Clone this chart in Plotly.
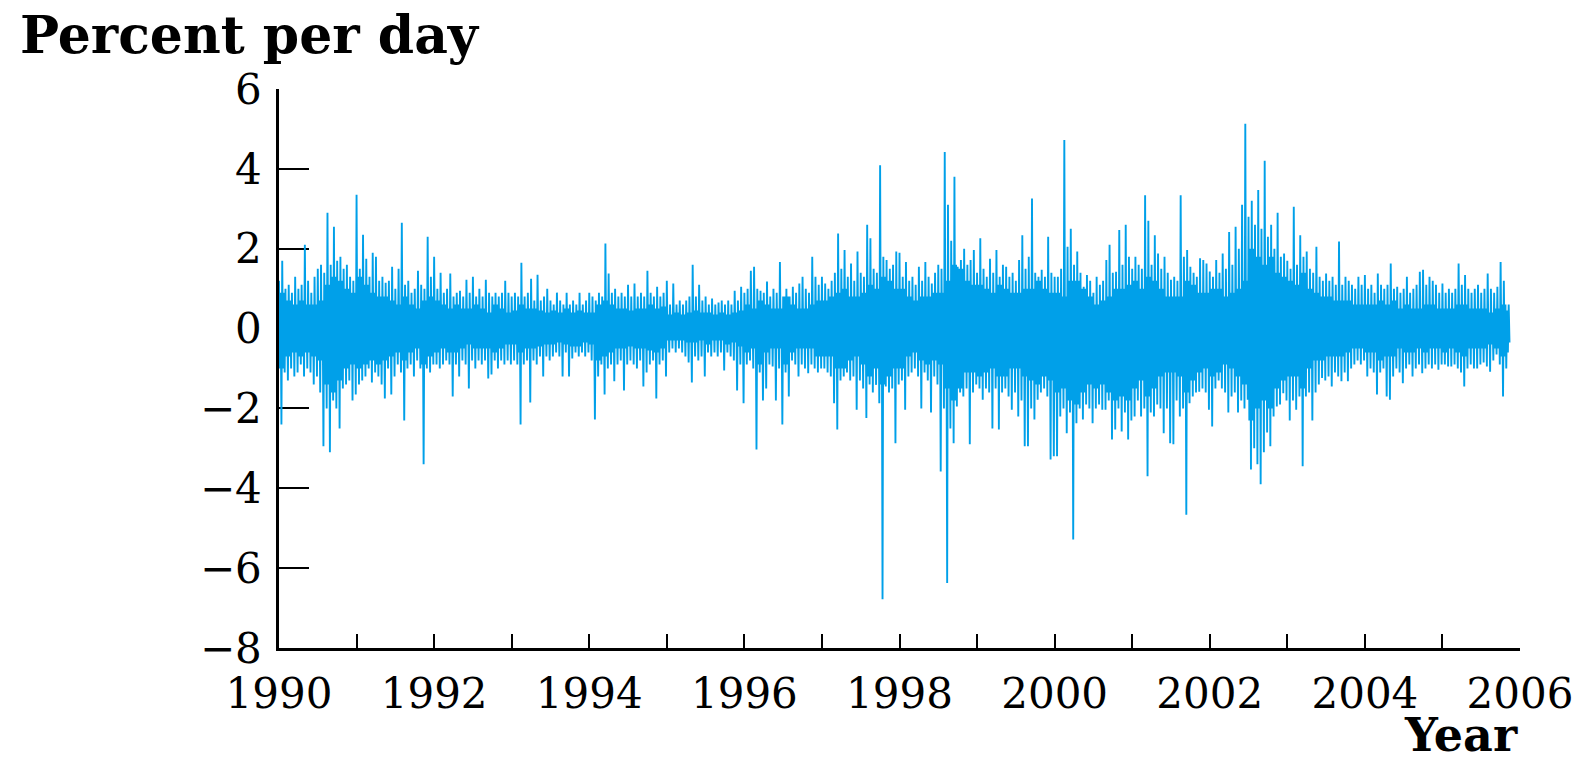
import plotly.graph_objects as go

# Half-month extremes (percent per day), 24 per year
hi_1990 = [1.2, 1.7, 1.0, 1.1, 0.9, 1.3, 1.0, 1.1, 2.1, 1.2, 0.9, 1.3, 1.5, 1.6, 1.4, 2.9, 1.6, 2.55, 1.7, 1.8, 1.5, 1.6, 1.3, 1.2]
lo_1990 = [-2.4, -1.1, -1.3, -1.0, -1.2, -1.1, -0.9, -1.2, -1.0, -1.1, -1.4, -1.2, -1.6, -2.95, -2.0, -3.1, -1.8, -2.0, -2.5, -1.5, -1.4, -1.3, -1.8, -1.65]
hi_1991 = [3.35, 1.5, 2.35, 1.75, 1.3, 1.9, 1.8, 1.2, 1.3, 1.15, 1.2, 1.55, 1.0, 1.5, 2.65, 1.1, 1.2, 0.9, 1.0, 1.45, 1.1, 1.0, 2.3, 1.3]
lo_1991 = [-1.4, -1.3, -1.2, -1.0, -1.35, -1.1, -1.2, -1.4, -1.75, -1.0, -1.65, -1.2, -0.9, -1.1, -2.3, -1.0, -0.9, -1.2, -0.8, -1.0, -3.4, -1.0, -1.1, -0.9]
hi_1992 = [1.8, 1.0, 1.4, 0.9, 1.0, 1.38, 0.8, 0.9, 0.95, 0.8, 1.22, 0.9, 1.3, 0.8, 1.0, 0.8, 1.22, 0.9, 0.8, 0.9, 0.8, 0.9, 1.2, 0.9]
lo_1992 = [-0.9, -1.0, -0.9, -0.8, -0.9, -1.7, -0.9, -1.2, -0.8, -0.9, -1.5, -0.8, -1.0, -0.8, -0.9, -0.8, -1.25, -1.15, -0.8, -1.0, -0.8, -0.9, -0.8, -0.9]
hi_1993 = [0.8, 0.9, 0.8, 1.65, 0.8, 0.9, 1.25, 0.7, 1.35, 0.7, 0.8, 1.0, 0.7, 0.6, 0.9, 0.7, 0.6, 0.9, 0.6, 0.7, 0.6, 0.9, 0.6, 0.7]
lo_1993 = [-0.8, -0.9, -2.4, -0.9, -0.8, -1.85, -0.8, -0.9, -0.7, -1.2, -0.7, -0.8, -0.7, -0.6, -0.7, -1.2, -0.6, -1.2, -0.75, -0.6, -0.7, -0.6, -0.7, -0.6]
hi_1994 = [0.9, 0.8, 0.7, 0.9, 0.8, 2.13, 1.38, 0.9, 1.0, 0.8, 0.9, 0.8, 1.1, 0.8, 1.13, 0.8, 0.9, 0.8, 1.45, 0.9, 0.8, 1.05, 0.8, 0.9]
lo_1994 = [-0.8, -2.28, -1.2, -0.9, -1.65, -1.0, -0.9, -1.32, -0.9, -0.8, -1.55, -0.9, -0.8, -0.9, -1.0, -0.8, -1.45, -1.1, -0.9, -0.8, -1.75, -0.9, -0.8, -1.2]
hi_1995 = [1.2, 0.6, 1.13, 0.6, 0.7, 0.6, 0.7, 0.8, 1.6, 0.8, 1.1, 0.7, 0.8, 0.6, 0.75, 0.6, 0.65, 0.7, 0.6, 0.7, 0.6, 0.95, 0.7, 1.05]
lo_1995 = [-0.6, -0.5, -0.6, -0.5, -0.6, -0.7, -0.85, -1.35, -0.7, -0.8, -0.7, -1.2, -0.6, -0.7, -0.6, -0.7, -0.6, -1.05, -0.6, -0.7, -0.8, -1.55, -0.9, -1.87]
hi_1996 = [0.9, 1.0, 1.45, 1.55, 1.0, 0.95, 0.9, 1.18, 0.8, 1.0, 0.9, 1.67, 0.8, 1.0, 0.8, 1.05, 0.9, 1.13, 1.3, 1.0, 0.9, 1.8, 1.3, 1.1]
lo_1996 = [-0.9, -0.8, -1.0, -3.03, -1.1, -1.8, -1.5, -0.9, -0.95, -1.8, -1.0, -2.4, -1.1, -1.7, -0.8, -0.9, -1.2, -0.9, -1.0, -1.12, -0.9, -1.0, -1.1, -1.0]
hi_1997 = [1.3, 1.13, 1.0, 1.2, 1.4, 2.38, 1.5, 1.97, 1.3, 1.63, 1.2, 1.93, 1.4, 1.3, 2.6, 2.26, 1.5, 1.4, 4.09, 1.8, 1.72, 1.5, 1.6, 1.93]
lo_1997 = [-1.0, -1.1, -1.2, -1.87, -2.53, -1.3, -1.2, -1.1, -1.3, -1.2, -2.03, -1.3, -1.5, -2.24, -1.4, -1.6, -1.41, -1.87, -6.78, -1.45, -1.6, -1.5, -2.87, -1.4]
hi_1998 = [1.9, 1.3, 1.67, 1.2, 1.3, 1.1, 1.55, 1.2, 1.67, 1.3, 1.13, 1.4, 1.6, 1.5, 4.42, 3.1, 2.2, 3.8, 1.55, 1.72, 2.0, 1.6, 1.72, 1.97]
lo_1998 = [-1.3, -2.03, -1.2, -1.1, -1.0, -1.2, -2.0, -1.1, -1.3, -2.1, -1.2, -1.4, -3.58, -2.0, -6.37, -2.5, -2.87, -1.95, -1.6, -1.7, -1.5, -2.9, -1.6, -1.4]
hi_1999 = [1.4, 2.26, 1.5, 1.3, 1.75, 1.4, 1.97, 1.3, 1.6, 1.55, 1.3, 1.4, 1.2, 1.72, 2.34, 1.5, 1.8, 3.26, 1.4, 1.3, 1.47, 1.3, 2.3, 1.4]
lo_1999 = [-1.5, -1.78, -1.5, -1.6, -2.5, -1.5, -2.53, -1.6, -1.5, -1.7, -2.03, -1.6, -2.2, -1.8, -2.95, -2.95, -2.0, -2.28, -1.78, -1.6, -1.5, -1.7, -3.28, -3.2]
hi_2000 = [1.3, 1.3, 1.5, 4.72, 2.05, 2.5, 1.6, 1.93, 1.4, 1.05, 1.34, 1.2, 0.9, 1.3, 1.1, 1.2, 1.72, 2.1, 1.4, 1.42, 2.47, 1.6, 2.6, 1.8]
lo_2000 = [-3.2, -2.2, -2.0, -2.62, -2.1, -5.28, -2.37, -2.0, -2.28, -1.9, -2.0, -2.37, -2.0, -1.9, -2.03, -2.03, -1.8, -2.78, -2.53, -2.0, -2.58, -2.1, -2.78, -2.3]
hi_2001 = [1.5, 1.8, 1.6, 1.5, 3.34, 2.7, 1.6, 2.34, 1.88, 1.5, 1.8, 1.4, 1.22, 1.3, 1.2, 3.34, 1.8, 1.97, 1.55, 1.4, 1.3, 1.76, 1.72, 1.63]
lo_2001 = [-2.2, -1.8, -2.2, -2.0, -3.7, -2.1, -2.2, -1.9, -2.0, -2.62, -2.0, -2.87, -2.9, -1.8, -2.2, -2.0, -4.66, -1.87, -1.7, -1.6, -1.58, -1.5, -1.6, -2.03]
hi_2002 = [1.43, 1.3, 1.72, 1.4, 1.88, 1.5, 2.42, 1.6, 2.55, 2.0, 3.1, 5.13, 2.8, 3.2, 2.6, 3.47, 2.5, 4.2, 2.3, 2.6, 2.0, 2.9, 1.8, 1.88]
lo_2002 = [-2.45, -1.5, -1.3, -1.5, -1.6, -2.1, -1.7, -1.6, -2.1, -1.8, -2.0, -1.78, -3.53, -3.0, -3.4, -3.9, -3.1, -2.6, -2.95, -2.2, -1.95, -1.9, -1.62, -1.8]
hi_2003 = [1.7, 1.5, 3.05, 1.6, 2.34, 1.8, 1.93, 1.5, 1.4, 2.05, 1.3, 1.2, 1.38, 1.2, 1.3, 1.1, 2.18, 1.1, 1.3, 1.2, 1.1, 1.0, 1.3, 1.1]
lo_2003 = [-2.3, -1.8, -2.03, -1.7, -3.45, -1.7, -1.6, -2.3, -1.6, -1.4, -1.24, -1.3, -1.2, -1.45, -1.1, -1.2, -1.32, -1.1, -1.32, -1.0, -0.9, -0.8, -0.9, -0.8]
hi_2004 = [1.34, 1.0, 1.1, 0.9, 1.38, 1.1, 1.0, 1.1, 1.63, 1.0, 1.05, 0.9, 1.0, 1.3, 0.9, 1.0, 1.1, 1.42, 1.47, 1.1, 1.3, 1.2, 1.1, 0.9]
lo_2004 = [-1.2, -1.0, -1.1, -1.65, -1.1, -1.0, -1.7, -1.78, -1.2, -1.0, -1.1, -1.37, -1.0, -0.9, -1.2, -1.0, -0.9, -1.12, -1.0, -0.9, -1.0, -0.9, -1.03, -0.9]
hi_2005 = [1.13, 0.9, 1.0, 0.9, 1.0, 1.63, 1.1, 1.34, 1.0, 0.9, 1.0, 1.1, 0.9, 1.0, 1.38, 1.0, 0.9, 1.05, 1.67, 1.2, 0.45]
lo_2005 = [-0.9, -0.95, -0.95, -0.9, -1.0, -1.1, -1.45, -1.0, -0.9, -1.0, -1.0, -0.9, -0.85, -0.95, -1.08, -0.8, -0.65, -0.9, -1.7, -1.0, -0.35]

# Monthly edges of the dense core band, 12 per year
core_hi_1990 = [0.9, 0.7, 0.6, 0.7, 0.6, 0.6, 0.7, 1.1, 1.3, 1.2, 1.0, 0.9]
core_lo_1990 = [-1.0, -0.7, -0.6, -0.7, -0.6, -0.7, -0.8, -1.4, -1.6, -1.3, -1.0, -0.9]
core_hi_1991 = [1.3, 1.1, 0.9, 0.8, 0.8, 0.7, 0.6, 0.8, 0.6, 0.5, 0.7, 0.8]
core_lo_1991 = [-1.0, -0.9, -0.8, -0.9, -0.8, -0.7, -0.6, -0.8, -0.6, -0.5, -0.9, -0.7]
core_hi_1992 = [0.7, 0.6, 0.5, 0.6, 0.5, 0.5, 0.6, 0.5, 0.4, 0.6, 0.5, 0.4]
core_lo_1992 = [-0.6, -0.5, -0.6, -0.6, -0.5, -0.4, -0.5, -0.5, -0.5, -0.6, -0.5, -0.4]
core_hi_1993 = [0.45, 0.6, 0.5, 0.5, 0.45, 0.4, 0.45, 0.4, 0.5, 0.4, 0.45, 0.4]
core_lo_1993 = [-0.4, -0.6, -0.5, -0.5, -0.45, -0.4, -0.4, -0.35, -0.4, -0.45, -0.45, -0.35]
core_hi_1994 = [0.4, 0.6, 0.7, 0.6, 0.5, 0.5, 0.45, 0.5, 0.5, 0.6, 0.5, 0.55]
core_lo_1994 = [-0.4, -0.8, -0.7, -0.6, -0.5, -0.5, -0.45, -0.5, -0.5, -0.55, -0.6, -0.5]
core_hi_1995 = [0.35, 0.4, 0.35, 0.4, 0.45, 0.4, 0.4, 0.35, 0.4, 0.35, 0.4, 0.45]
core_lo_1995 = [-0.3, -0.3, -0.3, -0.35, -0.35, -0.3, -0.4, -0.3, -0.3, -0.4, -0.35, -0.45]
core_hi_1996 = [0.6, 0.5, 0.7, 0.6, 0.5, 0.5, 0.8, 0.6, 0.5, 0.5, 0.6, 0.7]
core_lo_1996 = [-0.6, -0.5, -0.9, -0.6, -0.5, -0.5, -0.9, -0.6, -0.5, -0.5, -0.5, -0.7]
core_hi_1997 = [0.7, 0.8, 0.9, 1.0, 0.8, 0.8, 0.9, 1.1, 1.0, 1.3, 1.2, 1.0]
core_lo_1997 = [-0.7, -0.7, -1.0, -1.0, -0.8, -0.7, -0.9, -1.2, -1.0, -1.4, -1.2, -1.0]
core_hi_1998 = [1.0, 0.8, 0.7, 0.8, 0.8, 0.9, 0.9, 1.2, 1.6, 1.5, 1.2, 1.1]
core_lo_1998 = [-1.0, -0.7, -0.6, -0.8, -0.9, -0.8, -0.9, -1.5, -1.8, -1.5, -1.1, -1.1]
core_hi_1999 = [1.1, 1.0, 0.9, 1.1, 1.0, 0.9, 0.9, 1.0, 1.0, 1.2, 1.0, 0.9]
core_lo_1999 = [-1.2, -1.1, -1.0, -1.2, -1.2, -1.0, -1.0, -1.2, -1.3, -1.4, -1.2, -1.3]
core_hi_2000 = [0.9, 0.8, 1.2, 1.2, 1.0, 0.8, 0.6, 0.7, 0.8, 1.0, 1.0, 1.1]
core_lo_2000 = [-1.6, -1.5, -1.8, -1.9, -1.6, -1.4, -1.5, -1.4, -1.6, -1.8, -1.7, -1.8]
core_hi_2001 = [1.2, 1.0, 1.3, 1.2, 1.0, 0.8, 0.8, 0.8, 1.2, 1.1, 0.9, 0.9]
core_lo_2001 = [-1.5, -1.3, -1.7, -1.5, -1.2, -1.1, -1.1, -1.2, -1.6, -1.3, -1.1, -1.0]
core_hi_2002 = [1.0, 1.0, 0.8, 0.9, 1.0, 1.2, 2.0, 1.8, 1.6, 1.8, 1.4, 1.3]
core_lo_2002 = [-1.2, -1.1, -0.9, -1.0, -1.2, -1.4, -2.3, -2.0, -1.8, -2.0, -1.5, -1.3]
core_hi_2003 = [1.2, 1.1, 1.4, 1.0, 0.9, 0.8, 0.8, 0.7, 0.7, 0.7, 0.6, 0.6]
core_lo_2003 = [-1.2, -1.2, -1.5, -1.0, -0.8, -0.8, -0.7, -0.7, -0.7, -0.6, -0.5, -0.5]
core_hi_2004 = [0.6, 0.6, 0.7, 0.6, 0.7, 0.5, 0.6, 0.5, 0.5, 0.6, 0.6, 0.5]
core_lo_2004 = [-0.6, -0.6, -0.8, -0.7, -0.7, -0.5, -0.6, -0.6, -0.5, -0.6, -0.5, -0.5]
core_hi_2005 = [0.5, 0.5, 0.6, 0.6, 0.5, 0.5, 0.5, 0.4, 0.5, 0.6, 0.6, 0.5]
core_lo_2005 = [-0.6, -0.5, -0.6, -0.7, -0.5, -0.5, -0.5, -0.4, -0.5, -0.7, -0.6, -0.5]

years = list(range(1990, 2006))
hi_by_year = [hi_1990, hi_1991, hi_1992, hi_1993, hi_1994, hi_1995, hi_1996, hi_1997,
              hi_1998, hi_1999, hi_2000, hi_2001, hi_2002, hi_2003, hi_2004, hi_2005]
lo_by_year = [lo_1990, lo_1991, lo_1992, lo_1993, lo_1994, lo_1995, lo_1996, lo_1997,
              lo_1998, lo_1999, lo_2000, lo_2001, lo_2002, lo_2003, lo_2004, lo_2005]
core_hi_by_year = [core_hi_1990, core_hi_1991, core_hi_1992, core_hi_1993, core_hi_1994, core_hi_1995,
                   core_hi_1996, core_hi_1997, core_hi_1998, core_hi_1999, core_hi_2000, core_hi_2001,
                   core_hi_2002, core_hi_2003, core_hi_2004, core_hi_2005]
core_lo_by_year = [core_lo_1990, core_lo_1991, core_lo_1992, core_lo_1993, core_lo_1994, core_lo_1995,
                   core_lo_1996, core_lo_1997, core_lo_1998, core_lo_1999, core_lo_2000, core_lo_2001,
                   core_lo_2002, core_lo_2003, core_lo_2004, core_lo_2005]

x_tick_vals = list(range(1990, 2007))
x_tick_text = [str(v) if v % 2 == 0 else "" for v in x_tick_vals]
y_tick_vals = [-8, -6, -4, -2, 0, 2, 4, 6]

xs, ys = [], []
for i, yr in enumerate(years):
    his, los = hi_by_year[i], lo_by_year[i]
    for k in range(len(his)):
        m = k // 2
        ch, cl = core_hi_by_year[i][m], core_lo_by_year[i][m]
        seq = [his[k], cl, ch, los[k]]
        for j, v in enumerate(seq):
            xs.append(yr + (k + j / 4.0) / 24.0)
            ys.append(v)

fig = go.Figure()
fig.add_trace(go.Scatter(x=xs, y=ys, mode="lines",
                         line=dict(color="#00A0E9", width=1.9),
                         hoverinfo="skip", showlegend=False))

FONT = "DejaVu Serif"
fig.update_layout(
    width=1588, height=766,
    margin=dict(l=279, r=68, t=89, b=118),
    paper_bgcolor="white", plot_bgcolor="white",
    showlegend=False,
    xaxis=dict(range=[1990, 2006], tickmode="array", tickvals=x_tick_vals, ticktext=x_tick_text,
               ticks="inside", ticklen=14, tickwidth=2, tickcolor="black",
               showline=True, linewidth=2.5, linecolor="black", mirror=False,
               showgrid=False, zeroline=False, layer="below traces",
               tickfont=dict(family=FONT, size=42, color="black"), ticklabelstandoff=7),
    yaxis=dict(range=[-8, 6], tickmode="array", tickvals=y_tick_vals,
               ticks="inside", ticklen=30, tickwidth=2, tickcolor="black",
               showline=True, linewidth=2.5, linecolor="black", mirror=False,
               showgrid=False, zeroline=False, layer="below traces",
               tickfont=dict(family=FONT, size=42, color="black"), ticklabelstandoff=6),
    annotations=[
        dict(text="<b>Percent per day</b>", xref="paper", yref="paper",
             x=-0.2103, y=1.097, xanchor="left", yanchor="middle", showarrow=False,
             font=dict(family=FONT, size=52, color="black")),
        dict(text="<b>Year</b>", xref="paper", yref="paper",
             x=1.0, y=-0.1556, xanchor="right", yanchor="middle", showarrow=False,
             font=dict(family=FONT, size=46, color="black")),
    ],
)

fig.write_html("out.html")
